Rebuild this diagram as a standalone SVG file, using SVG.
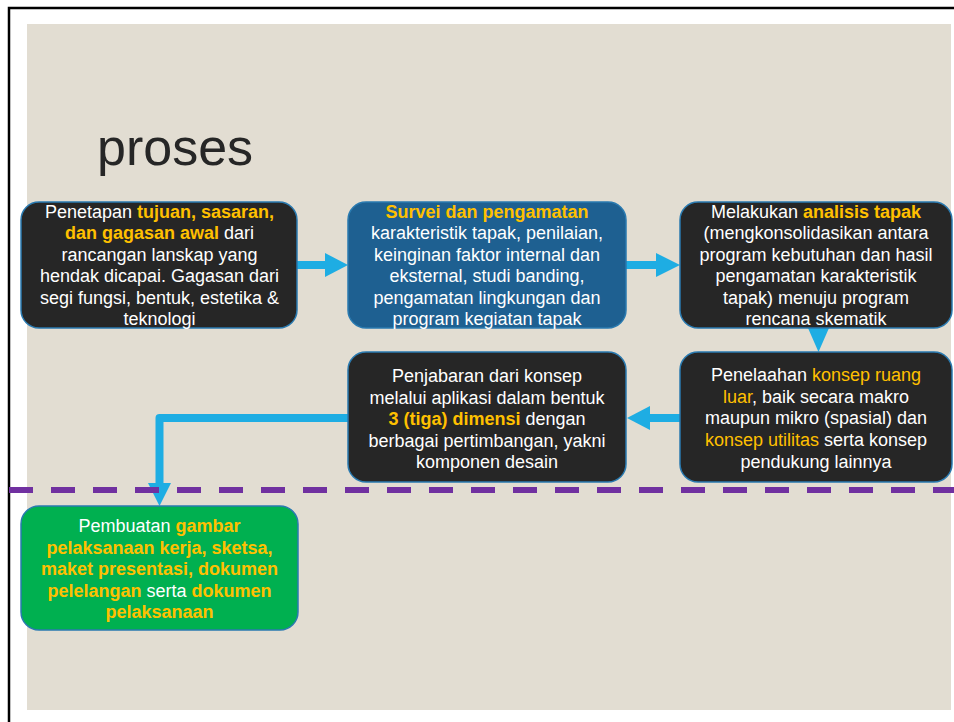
<svg xmlns="http://www.w3.org/2000/svg" width="954" height="722" viewBox="0 0 954 722">
<style>
.box{stroke:#2a7ab0;stroke-width:1.5}
.dark{fill:#262626}
.blue{fill:#1e6091}
.green{fill:#00b050}
.t{font-family:"Liberation Sans",Arial,sans-serif;font-size:18px;fill:#ffffff;text-anchor:middle}
.y{fill:#ffc000}
.b{font-weight:bold}
.arr{fill:#1eade3}
</style>
<rect x="0" y="0" width="954" height="722" fill="#ffffff"/>
<rect x="27" y="24" width="924" height="686" fill="#e2ddd2"/>
<path d="M9 722 V8 H954" fill="none" stroke="#000000" stroke-width="2.5"/>
<text x="97" y="165" font-family="'Liberation Sans',Arial,sans-serif" font-size="52" fill="#262626">proses</text>

<g id="connectors">
<rect class="arr" x="297" y="261" width="29" height="8"/>
<polygon class="arr" points="325,253 348,265 325,277"/>
<rect class="arr" x="625" y="261" width="32" height="8"/>
<polygon class="arr" points="656,253 680,265 656,277"/>
<polygon class="arr" points="808,328 829,328 818.5,352"/>
<rect class="arr" x="649" y="414" width="32" height="8"/>
<polygon class="arr" points="650,406 627,418 650,430"/>
<path d="M348 418 H159.5 V484" fill="none" stroke="#1eade3" stroke-width="8" stroke-linejoin="round"/>
<polygon class="arr" points="148,483 171,483 159.5,506"/>
</g>

<line x1="9" y1="490" x2="954" y2="490" stroke="#7030a0" stroke-width="6" stroke-dasharray="24 18"/>

<g id="n1">
<rect class="box dark" x="21" y="202" width="276" height="126" rx="18"/>
<text class="t" x="159.5" y="218">Penetapan <tspan class="y b">tujuan, sasaran,</tspan></text>
<text class="t" x="159.5" y="239.4"><tspan class="y b">dan gagasan awal</tspan> dari</text>
<text class="t" x="159.5" y="260.8">rancangan lanskap yang</text>
<text class="t" x="159.5" y="282.2">hendak dicapai. Gagasan dari</text>
<text class="t" x="159.5" y="303.6">segi fungsi, bentuk, estetika &amp;</text>
<text class="t" x="159.5" y="325">teknologi</text>
</g>

<g id="n2">
<rect class="box blue" x="348" y="202" width="278" height="126" rx="18"/>
<text class="t y b" x="487" y="218">Survei dan pengamatan</text>
<text class="t" x="487" y="239.4">karakteristik tapak, penilaian,</text>
<text class="t" x="487" y="260.8">keinginan faktor internal dan</text>
<text class="t" x="487" y="282.2">eksternal, studi banding,</text>
<text class="t" x="487" y="303.6">pengamatan lingkungan dan</text>
<text class="t" x="487" y="325">program kegiatan tapak</text>
</g>

<g id="n3">
<rect class="box dark" x="680" y="202" width="272" height="126" rx="18"/>
<text class="t" x="816" y="218">Melakukan <tspan class="y b">analisis tapak</tspan></text>
<text class="t" x="816" y="239.4">(mengkonsolidasikan antara</text>
<text class="t" x="816" y="260.8">program kebutuhan dan hasil</text>
<text class="t" x="816" y="282.2">pengamatan karakteristik</text>
<text class="t" x="816" y="303.6">tapak) menuju program</text>
<text class="t" x="816" y="325">rencana skematik</text>
</g>

<g id="n4">
<rect class="box dark" x="680" y="352" width="272" height="130" rx="18"/>
<text class="t" x="816" y="381">Penelaahan <tspan class="y">konsep ruang</tspan></text>
<text class="t" x="816" y="402.7"><tspan class="y">luar</tspan>, baik secara makro</text>
<text class="t" x="816" y="424.4">maupun mikro (spasial) dan</text>
<text class="t" x="816" y="446.1"><tspan class="y">konsep utilitas</tspan> serta konsep</text>
<text class="t" x="816" y="467.8">pendukung lainnya</text>
</g>

<g id="n5">
<rect class="box dark" x="348" y="352" width="278" height="130" rx="18"/>
<text class="t" x="487" y="382">Penjabaran dari konsep</text>
<text class="t" x="487" y="403.5">melalui aplikasi dalam bentuk</text>
<text class="t" x="487" y="425"><tspan class="y b">3 (tiga) dimensi</tspan> dengan</text>
<text class="t" x="487" y="446.5">berbagai pertimbangan, yakni</text>
<text class="t" x="487" y="468">komponen desain</text>
</g>

<g id="n6">
<rect class="box green" x="21" y="506" width="277" height="124" rx="18"/>
<text class="t" x="159.5" y="532">Pembuatan <tspan class="y b">gambar</tspan></text>
<text class="t y b" x="159.5" y="553.5">pelaksanaan kerja, sketsa,</text>
<text class="t y b" x="159.5" y="575">maket presentasi, dokumen</text>
<text class="t" x="159.5" y="596.5"><tspan class="y b">pelelangan</tspan> serta <tspan class="y b">dokumen</tspan></text>
<text class="t y b" x="159.5" y="618">pelaksanaan</text>
</g>
</svg>
